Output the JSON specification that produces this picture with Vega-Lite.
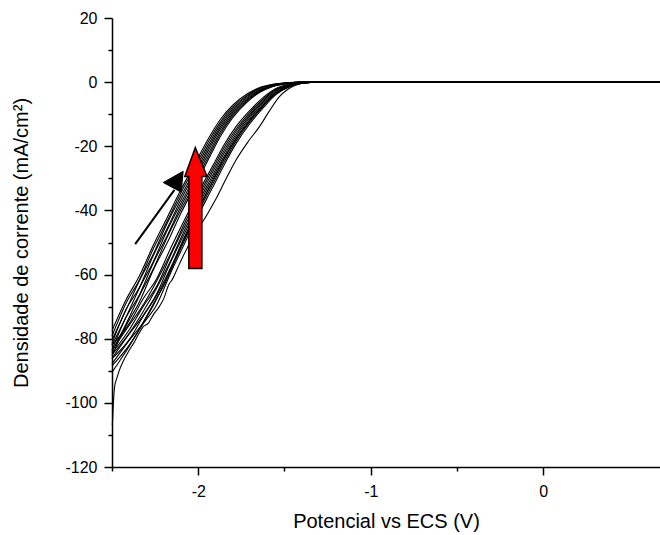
{
  "$schema": "https://vega.github.io/schema/vega-lite/v6.json",
  "width": 548,
  "height": 449,
  "autosize": "none",
  "padding": {"left": 112, "top": 18, "right": 0, "bottom": 68},
  "background": "white",
  "config": {
    "view": {"stroke": null},
    "axis": {
      "domainColor": "black", "domainWidth": 1.5, "tickColor": "black", "tickWidth": 1.5,
      "labelColor": "black", "titleColor": "black", "labelFont": "Liberation Sans", "titleFont": "Liberation Sans",
      "labelFontSize": 16, "titleFontSize": 20, "titleFontWeight": "normal", "grid": false
    }
  },
  "datasets": {
    "curves": [
      {"c":"L0","x":-2.5,"y":-77.5},{"c":"L0","x":-2.42,"y":-68.0},{"c":"L0","x":-2.34,"y":-60.3},{"c":"L0","x":-2.26,"y":-50.8},{"c":"L0","x":-2.18,"y":-42.2},{"c":"L0","x":-2.1,"y":-33.5},{"c":"L0","x":-2.02,"y":-25.5},{"c":"L0","x":-1.94,"y":-17.5},{"c":"L0","x":-1.87,"y":-11.5},{"c":"L0","x":-1.8,"y":-7.2},{"c":"L0","x":-1.72,"y":-3.8},{"c":"L0","x":-1.64,"y":-1.6},{"c":"L0","x":-1.57,"y":-0.7},{"c":"L0","x":-1.49,"y":-0.2},{"c":"L0","x":-1.42,"y":0},{"c":"L0","x":-1.3,"y":0},{"c":"L0","x":0.68,"y":0},
      {"c":"L1","x":-2.5,"y":-79.2},{"c":"L1","x":-2.42,"y":-69.1},{"c":"L1","x":-2.34,"y":-61.5},{"c":"L1","x":-2.26,"y":-51.9},{"c":"L1","x":-2.18,"y":-43.3},{"c":"L1","x":-2.1,"y":-34.5},{"c":"L1","x":-2.02,"y":-26.5},{"c":"L1","x":-1.94,"y":-18.4},{"c":"L1","x":-1.87,"y":-12.3},{"c":"L1","x":-1.8,"y":-7.8},{"c":"L1","x":-1.72,"y":-4.2},{"c":"L1","x":-1.64,"y":-1.8},{"c":"L1","x":-1.57,"y":-0.8},{"c":"L1","x":-1.49,"y":-0.24},{"c":"L1","x":-1.42,"y":-0.01},{"c":"L1","x":-1.3,"y":0},{"c":"L1","x":0.68,"y":0},
      {"c":"L2","x":-2.5,"y":-80.4},{"c":"L2","x":-2.42,"y":-71.2},{"c":"L2","x":-2.34,"y":-61.8},{"c":"L2","x":-2.26,"y":-53.6},{"c":"L2","x":-2.18,"y":-44.0},{"c":"L2","x":-2.1,"y":-35.6},{"c":"L2","x":-2.02,"y":-27.5},{"c":"L2","x":-1.94,"y":-19.4},{"c":"L2","x":-1.87,"y":-13.0},{"c":"L2","x":-1.8,"y":-8.3},{"c":"L2","x":-1.72,"y":-4.5},{"c":"L2","x":-1.64,"y":-2.0},{"c":"L2","x":-1.57,"y":-0.9},{"c":"L2","x":-1.49,"y":-0.28},{"c":"L2","x":-1.42,"y":-0.02},{"c":"L2","x":-1.3,"y":0},{"c":"L2","x":0.68,"y":0},
      {"c":"L3","x":-2.5,"y":-81.5},{"c":"L3","x":-2.42,"y":-71.0},{"c":"L3","x":-2.34,"y":-63.9},{"c":"L3","x":-2.26,"y":-54.0},{"c":"L3","x":-2.18,"y":-45.6},{"c":"L3","x":-2.1,"y":-36.6},{"c":"L3","x":-2.02,"y":-28.5},{"c":"L3","x":-1.94,"y":-20.3},{"c":"L3","x":-1.87,"y":-13.8},{"c":"L3","x":-1.8,"y":-8.9},{"c":"L3","x":-1.72,"y":-4.9},{"c":"L3","x":-1.64,"y":-2.3},{"c":"L3","x":-1.57,"y":-1.0},{"c":"L3","x":-1.49,"y":-0.3},{"c":"L3","x":-1.42,"y":-0.03},{"c":"L3","x":-1.3,"y":0},{"c":"L3","x":0.68,"y":0},
      {"c":"L4","x":-2.5,"y":-82.0},{"c":"L4","x":-2.42,"y":-73.4},{"c":"L4","x":-2.34,"y":-64.1},{"c":"L4","x":-2.26,"y":-55.9},{"c":"L4","x":-2.18,"y":-46.2},{"c":"L4","x":-2.1,"y":-37.7},{"c":"L4","x":-2.02,"y":-29.5},{"c":"L4","x":-1.94,"y":-21.2},{"c":"L4","x":-1.87,"y":-14.5},{"c":"L4","x":-1.8,"y":-9.4},{"c":"L4","x":-1.72,"y":-5.3},{"c":"L4","x":-1.64,"y":-2.5},{"c":"L4","x":-1.57,"y":-1.1},{"c":"L4","x":-1.49,"y":-0.36},{"c":"L4","x":-1.42,"y":-0.04},{"c":"L4","x":-1.3,"y":0},{"c":"L4","x":0.68,"y":0},
      {"c":"L5","x":-2.5,"y":-83.6},{"c":"L5","x":-2.42,"y":-73.5},{"c":"L5","x":-2.34,"y":-66.2},{"c":"L5","x":-2.26,"y":-56.3},{"c":"L5","x":-2.18,"y":-47.9},{"c":"L5","x":-2.1,"y":-38.7},{"c":"L5","x":-2.02,"y":-30.5},{"c":"L5","x":-1.94,"y":-22.2},{"c":"L5","x":-1.87,"y":-15.3},{"c":"L5","x":-1.8,"y":-10.0},{"c":"L5","x":-1.72,"y":-5.7},{"c":"L5","x":-1.64,"y":-2.7},{"c":"L5","x":-1.57,"y":-1.2},{"c":"L5","x":-1.49,"y":-0.4},{"c":"L5","x":-1.42,"y":-0.05},{"c":"L5","x":-1.3,"y":0},{"c":"L5","x":0.68,"y":0},
      {"c":"L6","x":-2.5,"y":-84.0},{"c":"L6","x":-2.42,"y":-75.6},{"c":"L6","x":-2.34,"y":-66.5},{"c":"L6","x":-2.26,"y":-58.2},{"c":"L6","x":-2.18,"y":-48.4},{"c":"L6","x":-2.1,"y":-39.7},{"c":"L6","x":-2.02,"y":-31.5},{"c":"L6","x":-1.94,"y":-23.1},{"c":"L6","x":-1.87,"y":-16.0},{"c":"L6","x":-1.8,"y":-10.5},{"c":"L6","x":-1.72,"y":-6.0},{"c":"L6","x":-1.64,"y":-2.9},{"c":"L6","x":-1.57,"y":-1.3},{"c":"L6","x":-1.49,"y":-0.44},{"c":"L6","x":-1.42,"y":-0.06},{"c":"L6","x":-1.3,"y":0},{"c":"L6","x":0.68,"y":0},
      {"c":"L7","x":-2.5,"y":-85.2},{"c":"L7","x":-2.42,"y":-76.1},{"c":"L7","x":-2.34,"y":-68.4},{"c":"L7","x":-2.26,"y":-58.5},{"c":"L7","x":-2.18,"y":-50.1},{"c":"L7","x":-2.1,"y":-40.8},{"c":"L7","x":-2.02,"y":-32.5},{"c":"L7","x":-1.94,"y":-24.0},{"c":"L7","x":-1.87,"y":-16.8},{"c":"L7","x":-1.8,"y":-11.1},{"c":"L7","x":-1.72,"y":-6.4},{"c":"L7","x":-1.64,"y":-3.1},{"c":"L7","x":-1.57,"y":-1.4},{"c":"L7","x":-1.49,"y":-0.48},{"c":"L7","x":-1.42,"y":-0.07},{"c":"L7","x":-1.3,"y":0},{"c":"L7","x":0.68,"y":0},
      {"c":"R0","x":-2.5,"y":-82.0},{"c":"R0","x":-2.4,"y":-75.3},{"c":"R0","x":-2.32,"y":-67.6},{"c":"R0","x":-2.24,"y":-61.2},{"c":"R0","x":-2.16,"y":-51.8},{"c":"R0","x":-2.08,"y":-43.0},{"c":"R0","x":-2.0,"y":-34.5},{"c":"R0","x":-1.92,"y":-26.5},{"c":"R0","x":-1.85,"y":-19.5},{"c":"R0","x":-1.78,"y":-13.8},{"c":"R0","x":-1.7,"y":-8.8},{"c":"R0","x":-1.62,"y":-4.6},{"c":"R0","x":-1.55,"y":-2.0},{"c":"R0","x":-1.47,"y":-0.6},{"c":"R0","x":-1.4,"y":-0.1},{"c":"R0","x":-1.3,"y":0},{"c":"R0","x":0.68,"y":0},
      {"c":"R1","x":-2.5,"y":-83.6},{"c":"R1","x":-2.4,"y":-75.8},{"c":"R1","x":-2.32,"y":-69.5},{"c":"R1","x":-2.24,"y":-61.9},{"c":"R1","x":-2.16,"y":-53.4},{"c":"R1","x":-2.08,"y":-44.1},{"c":"R1","x":-2.0,"y":-35.5},{"c":"R1","x":-1.92,"y":-27.5},{"c":"R1","x":-1.85,"y":-20.4},{"c":"R1","x":-1.78,"y":-14.6},{"c":"R1","x":-1.7,"y":-9.4},{"c":"R1","x":-1.62,"y":-5.1},{"c":"R1","x":-1.55,"y":-2.3},{"c":"R1","x":-1.47,"y":-0.7},{"c":"R1","x":-1.4,"y":-0.14},{"c":"R1","x":-1.3,"y":0},{"c":"R1","x":0.68,"y":0},
      {"c":"R2","x":-2.5,"y":-84.5},{"c":"R2","x":-2.4,"y":-77.2},{"c":"R2","x":-2.32,"y":-70.0},{"c":"R2","x":-2.24,"y":-63.6},{"c":"R2","x":-2.16,"y":-54.0},{"c":"R2","x":-2.08,"y":-45.1},{"c":"R2","x":-2.0,"y":-36.5},{"c":"R2","x":-1.92,"y":-28.4},{"c":"R2","x":-1.85,"y":-21.3},{"c":"R2","x":-1.78,"y":-15.3},{"c":"R2","x":-1.7,"y":-10.0},{"c":"R2","x":-1.62,"y":-5.5},{"c":"R2","x":-1.55,"y":-2.5},{"c":"R2","x":-1.47,"y":-0.84},{"c":"R2","x":-1.4,"y":-0.18},{"c":"R2","x":-1.3,"y":0},{"c":"R2","x":0.68,"y":0},
      {"c":"R3","x":-2.5,"y":-85.0},{"c":"R3","x":-2.4,"y":-78.3},{"c":"R3","x":-2.32,"y":-71.6},{"c":"R3","x":-2.24,"y":-64.1},{"c":"R3","x":-2.16,"y":-55.7},{"c":"R3","x":-2.08,"y":-46.2},{"c":"R3","x":-2.0,"y":-37.5},{"c":"R3","x":-1.92,"y":-29.4},{"c":"R3","x":-1.85,"y":-22.2},{"c":"R3","x":-1.78,"y":-16.1},{"c":"R3","x":-1.7,"y":-10.5},{"c":"R3","x":-1.62,"y":-6.0},{"c":"R3","x":-1.55,"y":-2.8},{"c":"R3","x":-1.47,"y":-0.96},{"c":"R3","x":-1.4,"y":-0.22},{"c":"R3","x":-1.3,"y":-0.01},{"c":"R3","x":0.68,"y":0},
      {"c":"R4","x":-2.5,"y":-86.1},{"c":"R4","x":-2.4,"y":-78.5},{"c":"R4","x":-2.32,"y":-72.8},{"c":"R4","x":-2.24,"y":-65.9},{"c":"R4","x":-2.16,"y":-56.1},{"c":"R4","x":-2.08,"y":-47.2},{"c":"R4","x":-2.0,"y":-38.5},{"c":"R4","x":-1.92,"y":-30.3},{"c":"R4","x":-1.85,"y":-23.1},{"c":"R4","x":-1.78,"y":-16.8},{"c":"R4","x":-1.7,"y":-11.1},{"c":"R4","x":-1.62,"y":-6.4},{"c":"R4","x":-1.55,"y":-3.1},{"c":"R4","x":-1.47,"y":-1.08},{"c":"R4","x":-1.4,"y":-0.26},{"c":"R4","x":-1.3,"y":-0.01},{"c":"R4","x":0.68,"y":0},
      {"c":"R5","x":-2.5,"y":-86.2},{"c":"R5","x":-2.4,"y":-80.3},{"c":"R5","x":-2.32,"y":-73.1},{"c":"R5","x":-2.24,"y":-66.4},{"c":"R5","x":-2.16,"y":-57.9},{"c":"R5","x":-2.08,"y":-48.3},{"c":"R5","x":-2.0,"y":-39.5},{"c":"R5","x":-1.92,"y":-31.3},{"c":"R5","x":-1.85,"y":-24.0},{"c":"R5","x":-1.78,"y":-17.6},{"c":"R5","x":-1.7,"y":-11.7},{"c":"R5","x":-1.62,"y":-6.9},{"c":"R5","x":-1.55,"y":-3.4},{"c":"R5","x":-1.47,"y":-1.2},{"c":"R5","x":-1.4,"y":-0.3},{"c":"R5","x":-1.3,"y":-0.01},{"c":"R5","x":0.68,"y":0},
      {"c":"R6","x":-2.5,"y":-87.8},{"c":"R6","x":-2.4,"y":-80.5},{"c":"R6","x":-2.32,"y":-75.0},{"c":"R6","x":-2.24,"y":-67.5},{"c":"R6","x":-2.16,"y":-58.3},{"c":"R6","x":-2.08,"y":-49.4},{"c":"R6","x":-2.0,"y":-40.5},{"c":"R6","x":-1.92,"y":-32.2},{"c":"R6","x":-1.85,"y":-24.9},{"c":"R6","x":-1.78,"y":-18.3},{"c":"R6","x":-1.7,"y":-12.3},{"c":"R6","x":-1.62,"y":-7.3},{"c":"R6","x":-1.55,"y":-3.6},{"c":"R6","x":-1.47,"y":-1.32},{"c":"R6","x":-1.4,"y":-0.34},{"c":"R6","x":-1.3,"y":-0.02},{"c":"R6","x":0.68,"y":0},
      {"c":"R7","x":-2.5,"y":-88.5},{"c":"R7","x":-2.4,"y":-82.0},{"c":"R7","x":-2.32,"y":-75.4},{"c":"R7","x":-2.24,"y":-69.3},{"c":"R7","x":-2.16,"y":-59.5},{"c":"R7","x":-2.08,"y":-50.4},{"c":"R7","x":-2.0,"y":-41.5},{"c":"R7","x":-1.92,"y":-33.2},{"c":"R7","x":-1.85,"y":-25.8},{"c":"R7","x":-1.78,"y":-19.1},{"c":"R7","x":-1.7,"y":-12.9},{"c":"R7","x":-1.62,"y":-7.8},{"c":"R7","x":-1.55,"y":-3.9},{"c":"R7","x":-1.47,"y":-1.44},{"c":"R7","x":-1.4,"y":-0.38},{"c":"R7","x":-1.3,"y":-0.02},{"c":"R7","x":0.68,"y":0},
      {"c":"O1","x":-2.5,"y":-90.5},{"c":"O1","x":-2.45,"y":-86.5},{"c":"O1","x":-2.4,"y":-82.3},{"c":"O1","x":-2.32,"y":-75.0},{"c":"O1","x":-2.24,"y":-67.2},{"c":"O1","x":-2.2,"y":-63.5},{"c":"O1","x":-2.16,"y":-58.8},{"c":"O1","x":-2.08,"y":-48.8},{"c":"O1","x":-2.0,"y":-39.8},{"c":"O1","x":-1.92,"y":-31.2},{"c":"O1","x":-1.85,"y":-23.8},{"c":"O1","x":-1.78,"y":-17.5},{"c":"O1","x":-1.7,"y":-11.8},{"c":"O1","x":-1.62,"y":-7.0},{"c":"O1","x":-1.55,"y":-3.5},{"c":"O1","x":-1.47,"y":-1.2},{"c":"O1","x":-1.4,"y":-0.25},{"c":"O1","x":-1.3,"y":0},{"c":"O1","x":0.68,"y":0},
      {"c":"T","x":-2.498,"y":-107},{"c":"T","x":-2.492,"y":-100},{"c":"T","x":-2.485,"y":-95},{"c":"T","x":-2.47,"y":-92.0},{"c":"T","x":-2.457,"y":-89.8},{"c":"T","x":-2.43,"y":-86.5},{"c":"T","x":-2.4,"y":-83.6},{"c":"T","x":-2.37,"y":-81.0},{"c":"T","x":-2.34,"y":-78.0},{"c":"T","x":-2.32,"y":-76.3},{"c":"T","x":-2.29,"y":-75.2},{"c":"T","x":-2.26,"y":-72.5},{"c":"T","x":-2.226,"y":-70.0},{"c":"T","x":-2.2,"y":-67.5},{"c":"T","x":-2.17,"y":-63.0},{"c":"T","x":-2.15,"y":-61.5},{"c":"T","x":-2.12,"y":-58.0},{"c":"T","x":-2.09,"y":-54.5},{"c":"T","x":-2.06,"y":-51.3},{"c":"T","x":-2.02,"y":-46.5},{"c":"T","x":-1.98,"y":-44.0},{"c":"T","x":-1.94,"y":-40.5},{"c":"T","x":-1.9,"y":-36.7},{"c":"T","x":-1.84,"y":-30.3},{"c":"T","x":-1.78,"y":-24.2},{"c":"T","x":-1.71,"y":-18.5},{"c":"T","x":-1.644,"y":-13.8},{"c":"T","x":-1.59,"y":-9.2},{"c":"T","x":-1.528,"y":-4.4},{"c":"T","x":-1.49,"y":-2.6},{"c":"T","x":-1.45,"y":-1.3},{"c":"T","x":-1.41,"y":-0.5},{"c":"T","x":-1.373,"y":-0.1},{"c":"T","x":-1.33,"y":0},{"c":"T","x":0.68,"y":0}
    ],
    "shaft": [{"x": -2.3656, "y": -50.5, "x2": -2.1381, "y2": -33.6}],
    "blackhead": [
      {"o": 1, "x": -2.2027, "y": -31.3},
      {"o": 2, "x": -2.0875, "y": -27.8},
      {"o": 3, "x": -2.0988, "y": -34.3}
    ],
    "redarrow": [
      {"o": 1, "x": -2.0546, "y": -58.1},
      {"o": 2, "x": -2.0546, "y": -29.4},
      {"o": 3, "x": -2.078, "y": -29.4},
      {"o": 4, "x": -2.017, "y": -20.4},
      {"o": 5, "x": -1.949, "y": -29.4},
      {"o": 6, "x": -1.979, "y": -29.4},
      {"o": 7, "x": -1.979, "y": -58.1}
    ]
  },
  "encoding": {
    "x": {
      "field": "x", "type": "quantitative",
      "scale": {"domain": [-2.5, 0.677], "nice": false, "zero": false},
      "axis": {
        "title": "Potencial vs ECS (V)",
        "values": [-2.5, -2, -1.5, -1, -0.5, 0],
        "labelExpr": "datum.value % 1 === 0 ? '' + datum.value : ''",
        "tickSize": {"condition": {"test": "datum.value % 1 === 0", "value": 8}, "value": 4},
        "labelPadding": 8,
        "titlePadding": 12
      }
    },
    "y": {
      "field": "y", "type": "quantitative",
      "scale": {"domain": [-120, 20], "nice": false, "zero": false},
      "axis": {
        "title": "Densidade de corrente (mA/cm²)",
        "values": [-120, -110, -100, -90, -80, -70, -60, -50, -40, -30, -20, -10, 0, 10, 20],
        "labelExpr": "datum.value % 20 === 0 ? '' + datum.value : ''",
        "tickSize": {"condition": {"test": "datum.value % 20 === 0", "value": 8}, "value": 4},
        "labelPadding": 7,
        "titlePadding": 33
      }
    }
  },
  "layer": [
    {
      "data": {"name": "curves"},
      "mark": {"type": "line", "color": "black", "strokeWidth": 1.1, "interpolate": "monotone"},
      "encoding": {"detail": {"field": "c", "type": "nominal"}}
    },
    {
      "data": {"name": "shaft"},
      "mark": {"type": "rule", "color": "black", "strokeWidth": 2},
      "encoding": {"x2": {"field": "x2"}, "y2": {"field": "y2"}}
    },
    {
      "data": {"name": "blackhead"},
      "mark": {"type": "line", "fill": "black", "stroke": "black", "strokeWidth": 1, "interpolate": "linear-closed"},
      "encoding": {"order": {"field": "o", "type": "quantitative"}}
    },
    {
      "data": {"name": "redarrow"},
      "mark": {"type": "line", "fill": "#ff0000", "stroke": "black", "strokeWidth": 1.5, "interpolate": "linear-closed"},
      "encoding": {"order": {"field": "o", "type": "quantitative"}}
    }
  ]
}
